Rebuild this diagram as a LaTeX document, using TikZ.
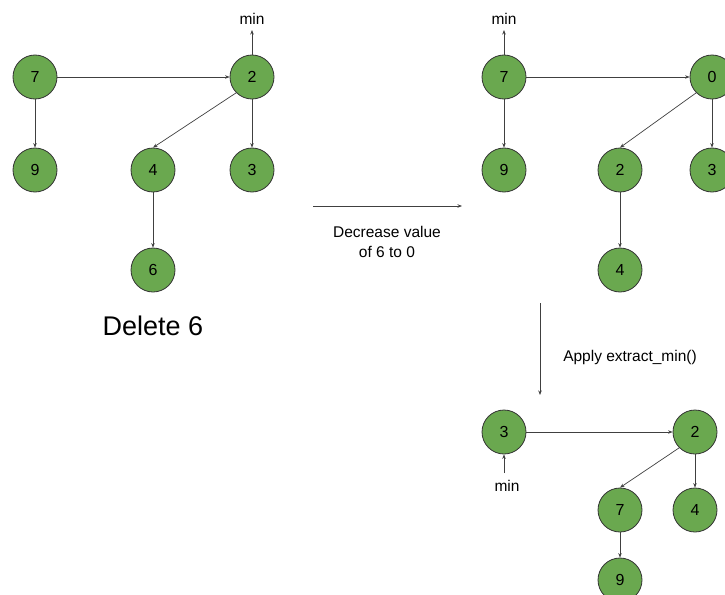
\documentclass[tikz,border=0pt]{standalone}
\usepackage{fontspec}
\setmainfont{Liberation Sans}
\usetikzlibrary{arrows.meta}
\definecolor{nodegreen}{HTML}{6AA84F}
\definecolor{edgegray}{HTML}{404040}
\begin{document}
\begin{tikzpicture}[x=1pt,y=-1pt,
  heapnode/.style={circle,draw=black!80,line width=0.8pt,fill=nodegreen,minimum size=44pt,inner sep=0pt,font=\fontsize{16}{18}\selectfont},
  link/.style={draw=edgegray,line width=0.7pt,-{Stealth[length=4.5pt,width=3.5pt]}},
  lbl/.style={font=\fontsize{15.5}{20}\selectfont,inner sep=0pt}]
\useasboundingbox (0,0) rectangle (725,594);
% left heap
\node[heapnode] (a7) at (35,77) {7};
\node[heapnode] (a2) at (252,77) {2};
\node[heapnode] (a9) at (35,170) {9};
\node[heapnode] (a4) at (153,170) {4};
\node[heapnode] (a3) at (252,170) {3};
\node[heapnode] (a6) at (153,270) {6};
\coordinate (amin) at (252,30);
\node[lbl] (aminlbl) at (252,19) {min};
\draw[link] (a7) -- (a2);
\draw[link] (a7) -- (a9);
\draw[link] (a2.south west) -- (a4.north);
\draw[link] (a2) -- (a3);
\draw[link] (a4) -- (a6);
\draw[link] (a2) -- (amin);
\node[font=\fontsize{27}{31}\selectfont,inner sep=0pt] (del) at (153,326) {Delete 6};
% decrease arrow
\coordinate (d1) at (313,206);
\coordinate (d2) at (462,206);
\draw[link] (d1) -- (d2);
\node[lbl,align=center] (dlbl) at (387,242) {Decrease value\\of 6 to 0};
% right top heap
\node[heapnode] (b7) at (504,77) {7};
\node[heapnode] (b0) at (712,77) {0};
\node[heapnode] (b9) at (504,170) {9};
\node[heapnode] (b2) at (620,170) {2};
\node[heapnode] (b3) at (712,170) {3};
\node[heapnode] (b4) at (620,270) {4};
\coordinate (bmin) at (504,30);
\node[lbl] (bminlbl) at (504,19) {min};
\draw[link] (b7) -- (b0);
\draw[link] (b7) -- (b9);
\draw[link] (b0.south west) -- (b2.north);
\draw[link] (b0) -- (b3);
\draw[link] (b2) -- (b4);
\draw[link] (b7) -- (bmin);
% extract arrow
\coordinate (e1) at (540,303);
\coordinate (e2) at (540,395);
\draw[link] (e1) -- (e2);
\node[lbl] (elbl) at (630,357) {Apply extract\_min()};
% bottom heap
\node[heapnode] (c3) at (504,432) {3};
\node[heapnode] (c2) at (695,432) {2};
\node[heapnode] (c7) at (620,510) {7};
\node[heapnode] (c4) at (695,510) {4};
\node[heapnode] (c9) at (620,580) {9};
\coordinate (cmin) at (504,473);
\node[lbl] (cminlbl) at (507,486) {min};
\draw[link] (c3) -- (c2);
\draw[link] (c2.south west) -- (c7.north);
\draw[link] (c2) -- (c4);
\draw[link] (c7) -- (c9);
\draw[link] (cmin) -- (c3);
\end{tikzpicture}
\end{document}
